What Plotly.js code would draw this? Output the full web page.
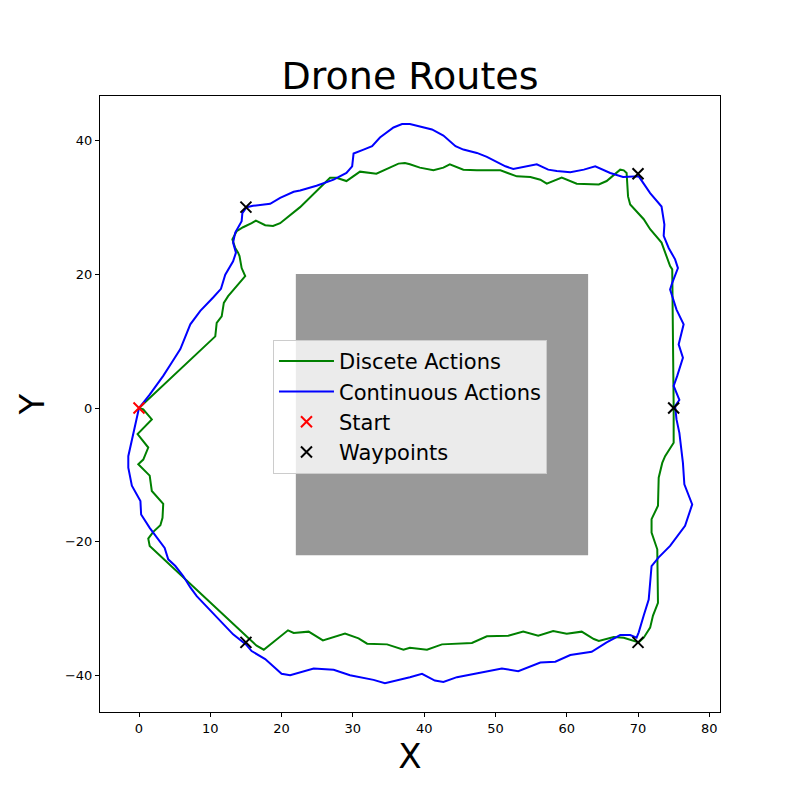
<!DOCTYPE html>
<html>
<head>
<meta charset="utf-8">
<script src="https://cdn.plot.ly/plotly-3.0.1.min.js"></script>
<style>html,body{margin:0;padding:0;background:#fff;}#chart{width:800px;height:800px;}</style>
</head>
<body>
<div id="chart"></div>
<script>
// Discrete actions route
const discreteX = [0, 0.6, 1.8, -0.2, 1.3, 0.6, -0.1, 0.7, 1.5, 1.8, 3.4, 3.3, 3.0, 2.0, 1.3, 1.5,
  16.5, 17.5, 20.9, 21.7, 23.8, 25.8, 28.9, 30.8, 32.0, 34.8, 37.1, 38.0, 40.4, 42.5, 46.7, 48.8, 51.8, 53.9, 56.0, 58.1, 60.0, 62.1, 63.8, 64.5, 66.6, 68.0, 69.4, 70.1,
  70.8, 71.7, 72.1, 72.8, 72.7, 71.9, 71.9, 72.8, 72.9, 73.4, 73.8, 75.0, 75.0,
  74.8, 74.5, 73.8, 73.3, 71.7, 70.8, 68.9, 68.6, 68.4, 68.0, 67.5, 65.6, 64.5, 61.4, 59.3, 58.1, 57.2, 56.3, 54.9, 53.0, 50.7, 47.4, 45.5, 43.6, 42.7, 41.3, 39.4, 38.0,
  37.3, 36.4, 33.3, 31.0, 29.1, 27.7, 26.8, 22.6, 19.8, 18.8, 17.7, 16.4, 15.8, 14.6, 13.7, 13.1, 13.5, 13.9, 14.1, 14.4, 14.9, 12.5, 11.9, 11.6, 10.9, 10.7, 0];
const discreteY = [0, -0.2, -1.7, -3.9, -5.9, -7.7, -8.4, -9.2, -10.1, -12.4, -14.3, -16.4, -17.5, -18.5, -19.5, -20.6,
  -35.5, -36.1, -33.2, -33.6, -33.4, -34.7, -33.7, -34.4, -35.2, -35.3, -36.1, -35.8, -36.1, -35.3, -35.1, -34.1, -34.0, -33.4, -34.0, -33.3, -33.7, -33.4, -34.5, -34.8, -34.2, -34.3, -34.8, -35.0,
  -34.3, -32.8, -31.0, -29.1, -21.1, -18.6, -16.6, -14.6, -10.4, -8.2, -7.2, -5.2, 0.3,
  20.7, 21.2, 23.2, 24.7, 26.7, 28.2, 30.4, 31.6, 35.1, 35.5, 35.6, 33.9, 33.4, 33.5, 34.4, 33.9, 33.5, 34.1, 34.5, 34.6, 35.5, 35.5, 35.6, 36.4, 35.9, 35.5, 35.9, 36.4,
  36.6, 36.5, 35.0, 35.3, 33.9, 34.4, 34.4, 30.0, 27.6, 27.2, 27.3, 28.0, 27.6, 27.0, 26.4, 25.2, 23.9, 23.2, 22.7, 20.9, 19.7, 16.7, 15.7, 13.7, 12.7, 10.7, 0];

// Continuous actions route
const continuousX = [0, -0.8, -1.5, -1.5, -1.0, 0.2, 0.3, 1.5, 3.6, 4.1, 5.1, 6.2, 7.2, 8.1, 11.1, 13.2, 15.0, 15.8, 17.7, 20.0, 21.2, 24.5, 27.3, 29.6, 32.9, 34.5, 38.0,
  39.7, 41.5, 42.7, 44.6, 46.9, 50.9, 53.2, 56.3, 58.4, 60.5, 63.5, 65.6, 67.5, 68.9, 69.8, 70.1, 70.8, 71.5, 71.9, 72.9, 74.5, 76.6, 77.6, 76.9, 76.5, 76.3, 76.0, 75.8, 75.4, 75.2,
  75.8, 75.0, 75.5, 76.3, 75.7, 76.4, 75.4, 74.5, 74.8, 75.6, 75.2, 74.3, 73.6, 73.7, 73.3, 71.7, 70.1, 69.4, 67.9, 66.1, 64.0, 62.4, 60.5, 58.6, 57.4, 55.8, 54.4, 52.5, 51.4, 48.8, 47.4, 45.5, 44.4, 42.7, 41.1, 39.4, 38.0,
  36.9, 35.7, 33.8, 32.7, 31.5, 30.1, 29.9, 29.1, 27.3, 24.9, 22.6, 21.7, 19.8, 18.4, 16.0, 15.1, 14.5, 14.4, 13.5, 13.2, 13.6, 13.2, 12.1, 11.5, 10.4, 8.6, 7.2, 5.8, 4.6, 3.4, 1.5, 0];
const continuousY = [0, -3.7, -7.2, -8.9, -11.6, -13.9, -15.9, -17.9, -20.9, -22.6, -23.6, -25.1, -26.8, -28.1, -31.5, -33.8, -35.3, -36.3, -37.5, -39.7, -39.9, -38.9, -39.1, -39.9, -40.6, -41.1, -40.2,
  -39.7, -40.7, -40.9, -40.2, -39.7, -38.9, -39.3, -38.0, -37.9, -36.9, -36.4, -35.0, -33.9, -33.9, -34.3, -33.5, -31.0, -28.6, -23.6, -22.3, -20.6, -17.6, -14.4, -12.4, -11.4, -8.2, -5.7, -3.7, -1.7, 0.3,
  1.2, 3.3, 4.8, 7.5, 9.5, 12.5, 14.7, 17.7, 18.7, 20.9, 22.2, 23.9, 25.7, 27.4, 30.1, 32.1, 34.6, 34.6, 34.5, 35.1, 36.1, 35.6, 35.2, 35.4, 35.6, 36.4, 36.1, 35.7, 36.1, 37.5, 38.1, 38.6, 39.1, 40.7, 41.6, 42.1, 42.4,
  42.4, 41.9, 40.4, 39.1, 38.6, 38.0, 36.1, 35.1, 34.1, 33.2, 32.5, 32.3, 31.4, 30.5, 30.2, 30.0, 29.1, 27.9, 26.2, 24.7, 23.2, 21.9, 19.9, 17.8, 16.5, 14.5, 12.5, 8.8, 6.8, 4.8, 2.0, 0];

const startX = [0];
const startY = [0];
const waypointX = [15, 70, 75, 70, 15];
const waypointY = [30, 35, 0, -35, -35];

// Obstacle
const obstacleX = [22, 63];
const obstacleY = [-22, 20];

const traces = [
  {x: discreteX, y: discreteY, type: 'scatter', mode: 'lines', name: 'Discete Actions',
   line: {color: 'green', width: 2}},
  {x: continuousX, y: continuousY, type: 'scatter', mode: 'lines', name: 'Continuous Actions',
   line: {color: 'blue', width: 2}},
  {x: startX, y: startY, type: 'scatter', mode: 'markers', name: 'Start',
   marker: {symbol: 'x-thin-open', size: 11, color: 'red', line: {color: 'red', width: 2}}},
  {x: waypointX, y: waypointY, type: 'scatter', mode: 'markers', name: 'Waypoints',
   marker: {symbol: 'x-thin-open', size: 11, color: 'black', line: {color: 'black', width: 2}}}
];

const font = 'DejaVu Sans, sans-serif';
const layout = {
  width: 800, height: 800,
  paper_bgcolor: '#fff', plot_bgcolor: '#fff',
  margin: {l: 100, r: 80, t: 96, b: 88},
  font: {family: font, color: '#000', size: 14},
  title: {text: 'Drone Routes', font: {family: font, size: 38, color: '#000'}, x: 0.5125, xanchor: 'center', y: 0.905, yanchor: 'middle'},
  xaxis: {
    range: [-5.47, 81.5], tickvals: [0, 10, 20, 30, 40, 50, 60, 70, 80],
    ticktext: ['0', '10', '20', '30', '40', '50', '60', '70', '80'],
    showgrid: false, zeroline: false, showline: true, mirror: true, linecolor: '#000', linewidth: 1,
    ticks: 'outside', ticklen: 4, tickcolor: '#000', tickfont: {size: 13},
    title: {text: 'X', font: {family: font, size: 34}, standoff: 8}
  },
  yaxis: {
    range: [-45.4, 46.6], tickvals: [-40, -20, 0, 20, 40],
    ticktext: ['\u221240', '\u221220', '0', '20', '40'],
    showgrid: false, zeroline: false, showline: true, mirror: true, linecolor: '#000', linewidth: 1,
    ticks: 'outside', ticklen: 4, tickcolor: '#000', tickfont: {size: 13},
    title: {text: 'Y', font: {family: font, size: 34}, standoff: 10}
  },
  shapes: [{type: 'rect', xref: 'x', yref: 'y', x0: obstacleX[0], x1: obstacleX[1], y0: obstacleY[0], y1: obstacleY[1],
    fillcolor: 'gray', opacity: 0.8, line: {width: 0}, layer: 'below'}],
  legend: {x: 0.279, y: 0.604, xanchor: 'left', yanchor: 'top', bgcolor: 'rgba(255,255,255,0.8)',
    bordercolor: '#cccccc', borderwidth: 1, font: {family: font, size: 21, color: '#000'}, tracegroupgap: 0,
    itemwidth: 55},
  showlegend: true
};

Plotly.newPlot('chart', traces, layout, {displayModeBar: false, staticPlot: true});
</script>
</body>
</html>
